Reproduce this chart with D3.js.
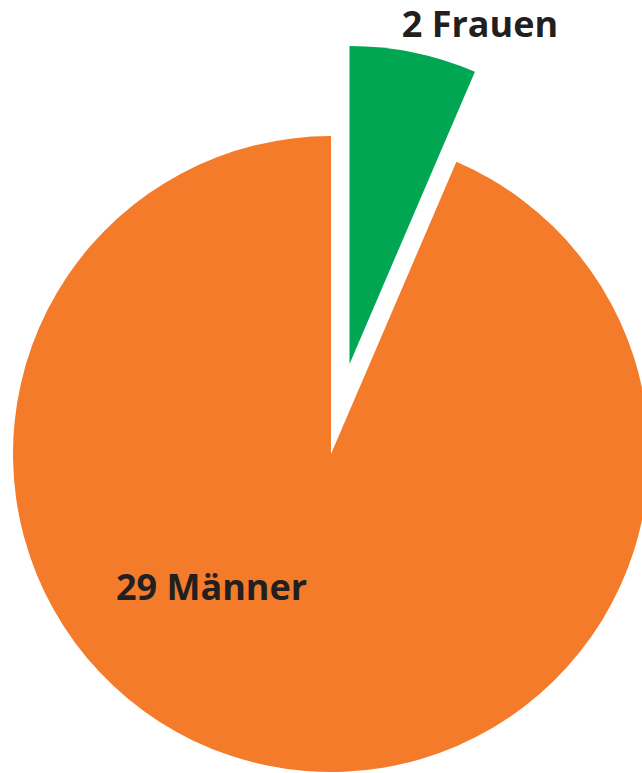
<!DOCTYPE html>
<html><head><meta charset="utf-8">
<script src="https://cdn.jsdelivr.net/npm/d3@7"></script>
<style>html,body{margin:0;padding:0;background:#fff;}svg{display:block;}</style>
</head><body>
<svg id="c" width="642" height="773"></svg>
<script>
const categories = ["Frauen", "Männer"];
const values = [2, 29];
const labels = ["2 Frauen", "29 Männer"];
const colors = ["#00a651", "#f47b2a"];

const svg = d3.select("#c");
const cx = 331, cy = 454, R = 318, explode = 92;
const pie = d3.pie().sort(null).value(d => d)(values);
const arc = d3.arc().innerRadius(0).outerRadius(R);
const g = svg.append("g").attr("transform", `translate(${cx},${cy})`);

g.selectAll("path").data(pie).join("path")
  .attr("d", arc)
  .attr("fill", (d, i) => colors[i])
  .attr("transform", (d, i) => {
    if (i !== 0) return null;
    const a = (d.startAngle + d.endAngle) / 2;
    return `translate(${Math.sin(a) * explode},${-Math.cos(a) * explode})`;
  });

const labelPos = [{x: 480, y: 37, anchor: "middle"}, {x: 116, y: 600, anchor: "start"}];
svg.selectAll("text.lbl").data(labels).join("text")
  .attr("class", "lbl")
  .attr("x", (d, i) => labelPos[i].x)
  .attr("y", (d, i) => labelPos[i].y)
  .attr("text-anchor", (d, i) => labelPos[i].anchor)
  .attr("font-family", "'Open Sans', Lato, sans-serif")
  .attr("font-weight", "bold")
  .attr("font-size", 36)
  .attr("fill", "#231f20")
  .text(d => d);
</script>
</body></html>
